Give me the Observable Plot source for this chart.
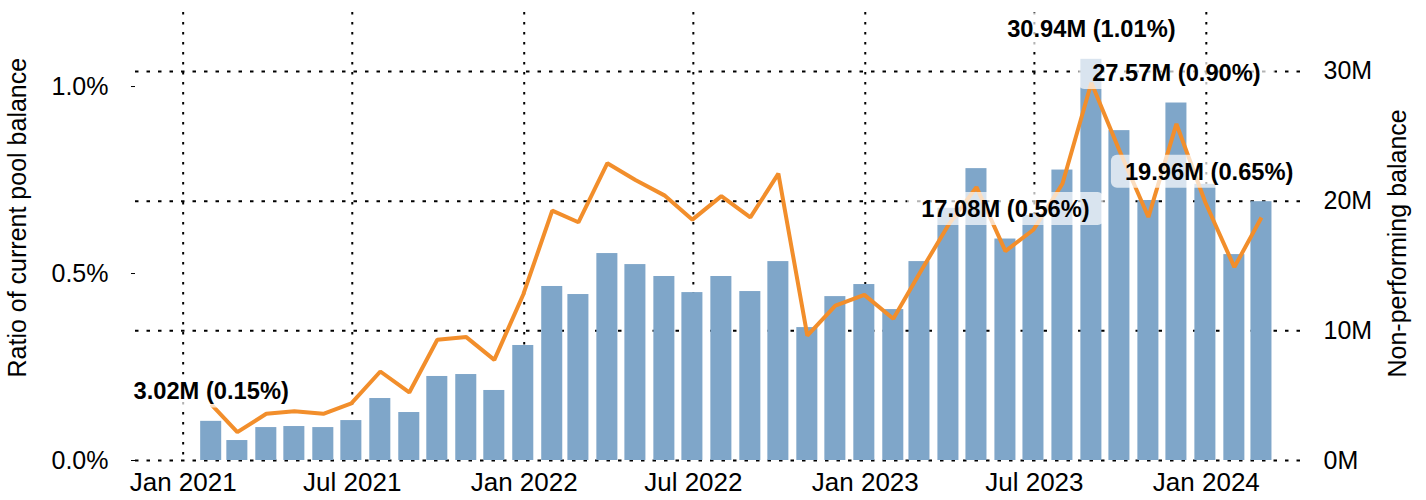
<!DOCTYPE html>
<html>
<head>
<meta charset="utf-8">
<script src="https://cdn.jsdelivr.net/npm/d3@7"></script>
<script src="https://cdn.jsdelivr.net/npm/@observablehq/plot@0.6"></script>
<style>
  html, body { margin: 0; padding: 0; background: #fff; }
</style>
</head>
<body>
<script>
// ---- data ----
const months = [
  "2021-01","2021-02","2021-03","2021-04","2021-05","2021-06","2021-07","2021-08","2021-09","2021-10","2021-11","2021-12",
  "2022-01","2022-02","2022-03","2022-04","2022-05","2022-06","2022-07","2022-08","2022-09","2022-10","2022-11","2022-12",
  "2023-01","2023-02","2023-03","2023-04","2023-05","2023-06","2023-07","2023-08","2023-09","2023-10","2023-11","2023-12",
  "2024-01","2024-02"
];
// Non-performing balance, millions
const nonPerformingM = [
  3.02, 1.54, 2.54, 2.62, 2.54, 3.08, 4.78, 3.70, 6.48, 6.63, 5.40, 8.87,
  13.42, 12.80, 15.96, 15.11, 14.19, 12.95, 14.19, 13.03, 15.34, 10.25, 12.64, 13.57,
  11.64, 15.34, 19.45, 22.51, 17.08, 18.90, 22.40, 30.94, 25.44, 20.05, 27.57, 21.30,
  15.88, 19.96
];
// Ratio of current pool balance, percent
const ratioPct = [
  0.150, 0.076, 0.125, 0.132, 0.125, 0.153, 0.238, 0.182, 0.323, 0.330, 0.269, 0.444,
  0.668, 0.637, 0.795, 0.750, 0.709, 0.644, 0.707, 0.650, 0.767, 0.334, 0.414, 0.443,
  0.379, 0.500, 0.630, 0.731, 0.560, 0.617, 0.740, 1.010, 0.829, 0.651, 0.900, 0.690,
  0.517, 0.650
];
const labelMonths = ["2021-01","2023-05","2023-08","2023-11","2024-02"];
const xTickMonths = ["2021-01","2021-07","2022-01","2022-07","2023-01","2023-07","2024-01"];
const leftTicksPct = [0, 0.5, 1.0];
const rightTicksM = [0, 10, 20, 30];
const leftTitle = "Ratio of current pool balance";
const rightTitle = "Non-performing balance";

// ---- build ----
const parseMonth = d3.utcParse("%Y-%m");
const monthEnd = m => d3.utcDay.offset(d3.utcMonth.offset(parseMonth(m), 1), -1);
const data = months.map((m, i) => ({
  month: m, date: monthEnd(m), npb: nonPerformingM[i], pct: ratioPct[i]
}));
const K = 28.84; // 1% on left axis == 28.84M on right axis
const lastMonth = months[months.length - 1];
const labels = data.filter(d => labelMonths.includes(d.month))
  .map(d => ({...d, text: `${d.npb.toFixed(2)}M (${d.pct.toFixed(2)}%)`}));
const labelTexts = new Set(labels.map(d => d.text));

const gridColor = "#000";
const chart = Plot.plot({
  width: 1426,
  height: 500,
  marginTop: 12,
  marginBottom: 40,
  marginLeft: 135,
  marginRight: 123,
  style: { fontFamily: "'Liberation Sans', Arial, sans-serif", fontSize: "25px", color: "#000", background: "#fff" },
  x: { type: "utc", domain: [new Date(Date.UTC(2020, 10, 11)), new Date(Date.UTC(2024, 3, 14))] },
  y: { domain: [0, 34.55] },
  marks: [
    Plot.gridY({ ticks: rightTicksM, stroke: gridColor, strokeOpacity: 1, strokeWidth: 2, strokeDasharray: "3.5,8" }),
    Plot.gridX({ ticks: xTickMonths.map(parseMonth), stroke: gridColor, strokeOpacity: 1, strokeWidth: 2, strokeDasharray: "2.5,7.5" }),
    Plot.rectY(data, {
      x1: d => d3.utcDay.offset(d.date, -15),
      x2: d => d3.utcDay.offset(d.date, 15),
      y: "npb", fill: "#7fa6c9", insetLeft: 3.5, insetRight: 3.5
    }),
    Plot.lineY(data, { x: "date", y: d => d.pct * K, stroke: "#f28e2b", strokeWidth: 4, strokeLinejoin: "miter", strokeLinecap: "butt" }),
    Plot.axisX({ ticks: xTickMonths.map(parseMonth), tickFormat: d3.utcFormat("%b %Y"), tickSize: 0, tickPadding: 12, fontSize: 26, label: null }),
    Plot.axisY({ anchor: "left", ticks: leftTicksPct.map(p => p * K), tickFormat: v => (v / K).toFixed(1) + "%", tickSize: 4, tickPadding: 23, label: null }),
    Plot.axisY({ anchor: "right", ticks: rightTicksM, tickFormat: v => v + "M", tickSize: 0, tickPadding: 20, label: null }),
    Plot.text([leftTitle], { text: d => d, frameAnchor: "bottom-left", dx: -110, dy: -83, rotate: -90, textAnchor: "start", fontSize: 25 }),
    Plot.text([rightTitle], { text: d => d, frameAnchor: "bottom-right", dx: 102, dy: -83, rotate: -90, textAnchor: "start", fontSize: 25 }),
    Plot.text(labels.filter(d => d.month !== lastMonth), {
      x: "date", y: "npb", text: "text", dy: -29.5, fontSize: 23.7, fontWeight: "bold", fill: "#000"
    }),
    Plot.text(labels.filter(d => d.month === lastMonth), {
      x: "date", y: "npb", text: "text", dy: -29.5, dx: 32, textAnchor: "end", fontSize: 23.7, fontWeight: "bold", fill: "#000"
    })
  ]
});
document.body.append(chart);

// translucent rounded boxes behind the annotation labels
const svgNS = "http://www.w3.org/2000/svg";
const annotTexts = Array.from(chart.querySelectorAll("text")).filter(t => labelTexts.has(t.textContent.trim()));
annotTexts.forEach(t => {
  const b = t.getBBox();
  const r = document.createElementNS(svgNS, "rect");
  r.setAttribute("x", b.x - 14);
  r.setAttribute("y", b.y - 4);
  r.setAttribute("width", b.width + 28);
  r.setAttribute("height", b.height + 7);
  r.setAttribute("rx", 6);
  r.setAttribute("fill", "#fff");
  r.setAttribute("fill-opacity", 0.7);
  const tr = t.getAttribute("transform");
  if (tr) r.setAttribute("transform", tr);
  const g = t.parentNode;
  g.insertBefore(r, g.firstChild);
});
</script>
</body>
</html>
